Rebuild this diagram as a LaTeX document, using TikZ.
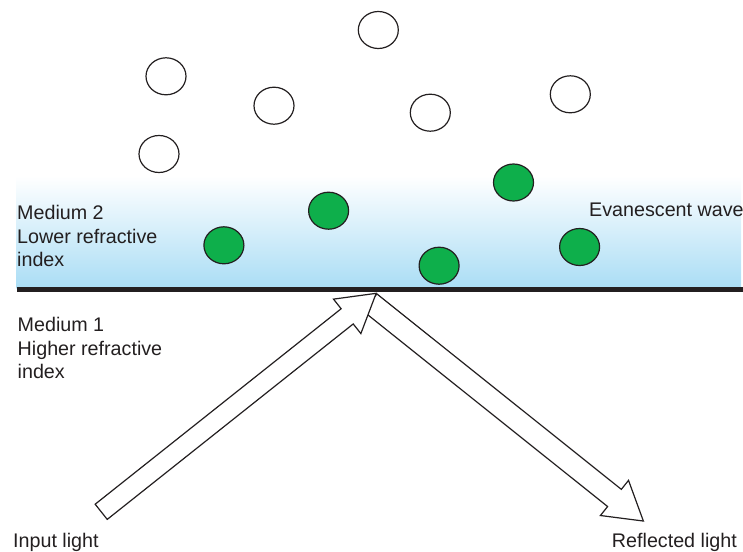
\documentclass[tikz,border=0pt]{standalone}
\usepackage{fontspec}
\setmainfont{Liberation Sans}
\usetikzlibrary{shapes.geometric}
\definecolor{inkc}{RGB}{35,31,32}
\definecolor{beadg}{RGB}{14,175,75}
\definecolor{bandblue}{RGB}{170,221,245}
\tikzset{
  ocirc/.style={ellipse,draw=inkc,line width=1.2pt,fill=white,minimum width=40pt,minimum height=37pt,inner sep=0pt},
  gcirc/.style={ellipse,draw=inkc,line width=1.2pt,fill=beadg,minimum width=40pt,minimum height=37pt,inner sep=0pt},
  lbl/.style={anchor=base west,inner sep=0pt,font=\fontsize{19.7}{23}\selectfont,text=inkc},
  lblr/.style={anchor=base east,inner sep=0pt,font=\fontsize{19.7}{23}\selectfont,text=inkc},
  hollow/.style={draw=inkc,line width=1.2pt,fill=white,line join=miter}
}
\newcommand\hollowarr[5]{% tail, angle, length, half shaft, half head
  \begin{scope}[shift={#1},rotate=#2]
    \draw[hollow] (0,-#4) -- ({#3-37},-#4) -- ({#3-37},-#5) -- (#3,0) -- ({#3-37},#5) -- ({#3-37},#4) -- (0,#4) -- cycle;
  \end{scope}}
\begin{document}
\begin{tikzpicture}[x=1pt,y=-1pt]
\useasboundingbox (0,0) rectangle (743,551);
% band
\shade[top color=white,bottom color=bandblue] (16.7,176) rectangle (741,288);
\fill[inkc] (16.7,286.7) rectangle (743,291.5);
% green beads
\node[gcirc] (g1) at (223.9,245.3) {};
\node[gcirc] (g2) at (328.6,210.7) {};
\node[gcirc] (g3) at (513.5,182.5) {};
\node[gcirc] (g4) at (439.1,265.7) {};
\node[gcirc] (g5) at (579.6,247) {};
% open beads
\node[ocirc] (o1) at (378.3,30) {};
\node[ocirc] (o2) at (166,76.3) {};
\node[ocirc] (o3) at (274,105.7) {};
\node[ocirc] (o4) at (430.3,112.7) {};
\node[ocirc] (o5) at (570.3,94.3) {};
\node[ocirc] (o6) at (159,154) {};
% arrows
\coordinate (rt) at (370,302.5);
\coordinate (it) at (101.2,511.8);
\hollowarr{(rt)}{-38.64}{350}{11}{22.5}
\hollowarr{(it)}{38.47}{351.2}{9.7}{22}
% labels
\node[lbl] (m2a) at (17,219.3) {Medium 2};
\node[lbl] (m2b) at (17,243.3) {Lower refractive};
\node[lbl] (m2c) at (17,266.7) {index};
\node[lbl] (m1a) at (17.5,331.7) {Medium 1};
\node[lbl] (m1b) at (17.5,355) {Higher refractive};
\node[lbl] (m1c) at (17.5,378.3) {index};
\node[lbl] (ev) at (589,216.7) {Evanescent wave};
\node[lbl] (inl) at (13,547.3) {Input light};
\node[lblr] (rfl) at (737,547.3) {Reflected light};
\end{tikzpicture}
\end{document}
